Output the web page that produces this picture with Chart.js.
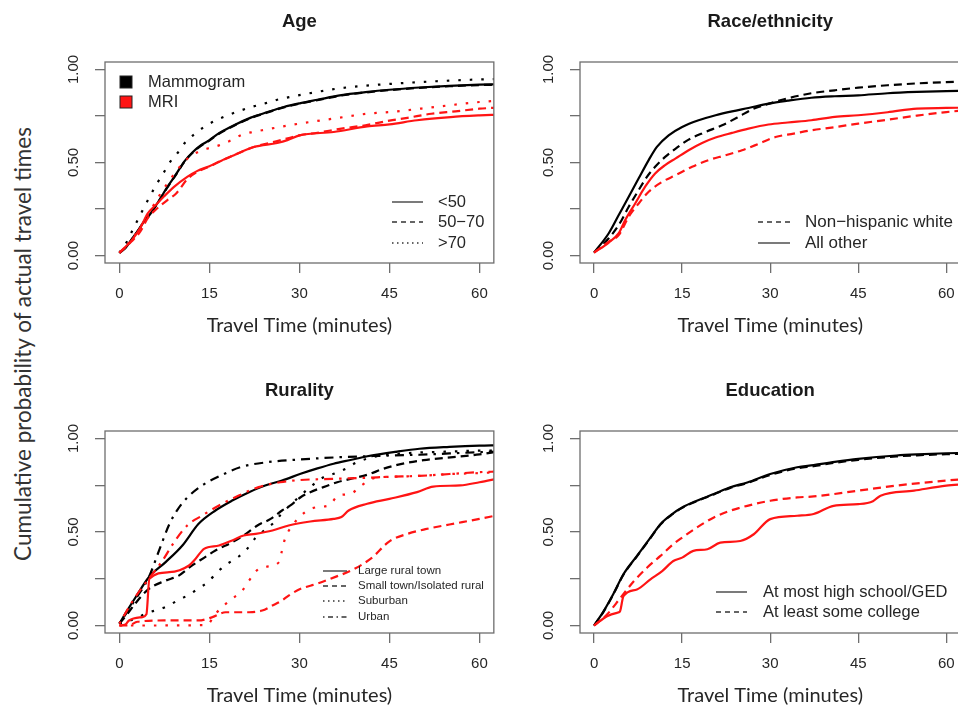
<!DOCTYPE html>
<html lang="en">
<head>
<meta charset="UTF-8" />
<title>Cumulative probability of actual travel times</title>
<script src="https://cdn.jsdelivr.net/npm/chart.js"></script>
<style>
  html, body { margin: 0; padding: 0; background: #fff; width: 958px; height: 713px; overflow: hidden; position: relative; }
  canvas { position: absolute; }
  #ytitle { position: absolute; left: 22px; top: 344px; transform: translate(-50%, -50%) rotate(-90deg);
            white-space: nowrap; font: 22.5px Lato; color: #333; }
</style>
</head>
<body>
<div id="ytitle">Cumulative probability of actual travel times</div>
<canvas id="age" width="470" height="345" style="left:30px;top:0px"></canvas>
<canvas id="race" width="470" height="345" style="left:505px;top:0px"></canvas>
<canvas id="rural" width="470" height="345" style="left:30px;top:370px"></canvas>
<canvas id="edu" width="470" height="345" style="left:505px;top:370px"></canvas>
<script>
// axis ticks
const xTicks = [0, 15, 30, 45, 60];
const yTicks = [0, 0.25, 0.5, 0.75, 1];
const yLabelTicks = [0, 0.5, 1];

// [minutes, cumulative probability]
// Age
const ageMamUnder50 = [[0,0.015],[1,0.04],[2,0.085],[3,0.13],[4,0.178],[5.2,0.226],[6.5,0.29],[8,0.369],[9.5,0.44],[10.8,0.505],[12.2,0.555],[13.6,0.593],[15,0.62],[16.3,0.651],[19.1,0.70],[21.9,0.741],[24.7,0.771],[27.4,0.798],[30.2,0.819],[33,0.837],[37,0.862],[41,0.878],[45,0.891],[50,0.903],[55,0.912],[60,0.918],[63,0.92]];
const ageMam50to70 = [[0,0.015],[1,0.04],[2,0.083],[3,0.128],[4,0.176],[5.2,0.224],[6.5,0.288],[8,0.366],[9.5,0.438],[10.8,0.502],[12.2,0.552],[13.6,0.59],[15,0.618],[16.3,0.649],[19.1,0.698],[21.9,0.739],[24.7,0.769],[27.4,0.796],[30.2,0.817],[33,0.835],[37,0.86],[41,0.876],[45,0.889],[50,0.901],[55,0.91],[60,0.916],[63,0.918]];
const ageMamOver70 = [[0,0.015],[1.25,0.074],[2.2,0.137],[3.1,0.194],[4.1,0.258],[5.1,0.319],[6.1,0.378],[7.35,0.444],[8.45,0.503],[9.7,0.551],[10.9,0.605],[12.45,0.651],[14.1,0.691],[16.1,0.727],[18,0.753],[19.9,0.776],[22.2,0.80],[24.4,0.819],[26.3,0.837],[28.3,0.851],[30,0.862],[34,0.885],[37,0.90],[41,0.913],[45,0.922],[50,0.932],[55,0.94],[60,0.946],[63,0.948]];
const ageMriUnder50 = [[0,0.015],[2,0.08],[3.5,0.15],[4.7,0.226],[6,0.27],[7.5,0.32],[9.1,0.369],[11.3,0.423],[13,0.455],[15,0.48],[17,0.51],[19.1,0.539],[22.4,0.583],[26.3,0.605],[28,0.62],[30,0.646],[35.7,0.664],[41.3,0.694],[45,0.705],[49.6,0.727],[55.2,0.744],[60,0.753],[63,0.757]];
const ageMri50to70 = [[0,0.015],[2,0.075],[3.5,0.13],[4.7,0.2],[6,0.245],[8,0.298],[9.5,0.335],[11.3,0.41],[13,0.45],[15,0.478],[17,0.51],[19.1,0.54],[22.4,0.583],[26.3,0.615],[30,0.646],[33,0.66],[37,0.682],[41,0.70],[45,0.725],[48,0.74],[52,0.762],[56,0.775],[60,0.789],[63,0.795]];
const ageMriOver70 = [[0,0.015],[2,0.085],[4,0.178],[5.5,0.26],[7,0.34],[8.5,0.41],[10,0.475],[11.5,0.525],[13,0.555],[14.7,0.575],[16.6,0.592],[18.6,0.619],[20.5,0.65],[22.4,0.665],[24.4,0.677],[26.6,0.69],[28.8,0.703],[30,0.709],[35.7,0.736],[41.3,0.762],[45,0.771],[52.5,0.798],[60,0.825],[63,0.832]];

// Race/ethnicity
const raceMamOther = [[0,0.016],[2.5,0.12],[4.2,0.218],[5.9,0.316],[7.6,0.415],[9.3,0.513],[10.7,0.584],[12.7,0.646],[15,0.691],[17.8,0.727],[20.7,0.754],[23.5,0.775],[26.3,0.793],[29.7,0.816],[33,0.832],[37,0.848],[41,0.856],[45,0.861],[50,0.872],[55,0.879],[60,0.884],[63,0.886]];
const raceMamNhw = [[0,0.016],[2.5,0.093],[4.2,0.164],[5.9,0.262],[7.6,0.352],[9,0.423],[10.4,0.477],[12.1,0.53],[13.9,0.575],[16.1,0.623],[19,0.664],[21.8,0.70],[24.6,0.745],[26.9,0.785],[29.7,0.815],[33,0.845],[37,0.872],[41,0.888],[45,0.902],[50,0.915],[55,0.925],[60,0.932],[63,0.935]];
const raceMriOther = [[0,0.016],[2.5,0.07],[4.2,0.12],[5.3,0.191],[7,0.28],[8.7,0.37],[10.4,0.441],[12.1,0.486],[13.9,0.522],[16.1,0.566],[18.4,0.605],[20.7,0.634],[23.5,0.659],[26.3,0.682],[29.7,0.704],[33,0.715],[37,0.727],[41,0.745],[45,0.754],[50,0.77],[55,0.79],[60,0.793],[63,0.795]];
const raceMriNhw = [[0,0.016],[2.5,0.075],[4.2,0.11],[5.9,0.209],[7.6,0.28],[9.3,0.343],[11.6,0.396],[13.9,0.432],[16.7,0.477],[19.5,0.513],[22.4,0.539],[25.2,0.566],[28,0.6],[30.9,0.637],[34,0.655],[37,0.673],[41,0.69],[45,0.709],[50,0.73],[55,0.752],[60,0.771],[63,0.78]];

// Rurality
const ruralMamLarge = [[0,0.01],[1.3,0.08],[2.7,0.151],[4.9,0.258],[7.7,0.339],[10.5,0.428],[13.2,0.544],[16,0.615],[18.8,0.668],[21.6,0.713],[24.3,0.749],[27.1,0.775],[30.2,0.811],[33,0.84],[35.7,0.865],[38.5,0.885],[41.3,0.905],[46.3,0.93],[50,0.945],[55,0.955],[60,0.962],[63,0.964]];
const ruralMamSmall = [[0,0.01],[1.3,0.06],[2.7,0.12],[4.9,0.196],[7.7,0.24],[9.9,0.267],[11.9,0.316],[14.1,0.362],[16,0.401],[18.8,0.445],[20.7,0.481],[23,0.535],[25.2,0.57],[27.1,0.615],[28.5,0.642],[30.2,0.686],[31.8,0.713],[34,0.74],[36.3,0.766],[38.5,0.784],[41.3,0.806],[44,0.838],[46.3,0.859],[50.7,0.884],[56.2,0.902],[60,0.915],[63,0.93]];
const ruralMamSuburb = [[0,0.01],[2.5,0.035],[4.5,0.065],[5.6,0.077],[7.6,0.098],[9.5,0.13],[11.3,0.16],[13.1,0.196],[14.9,0.237],[16.3,0.285],[18,0.33],[19.9,0.369],[21.3,0.41],[22.7,0.469],[24.1,0.508],[25.7,0.549],[26.8,0.59],[29.6,0.678],[31.8,0.74],[34,0.793],[35.7,0.811],[37.7,0.838],[39.6,0.873],[43.5,0.909],[46.3,0.918],[50,0.925],[55,0.93],[60,0.935],[63,0.935]];
const ruralMamUrban = [[0,0.01],[2.4,0.127],[4.9,0.258],[6.6,0.40],[8.3,0.54],[9.7,0.62],[11.2,0.68],[13.6,0.745],[16.9,0.802],[20.2,0.847],[24.6,0.873],[30.2,0.888],[36.8,0.90],[41.3,0.905],[45,0.909],[50,0.913],[55,0.92],[60,0.927],[63,0.93]];
const ruralMriLarge = [[0,0],[1,0.005],[1.6,0.027],[3.8,0.045],[4.5,0.06],[5,0.25],[8.3,0.285],[11.6,0.321],[12.7,0.357],[14.1,0.41],[16.6,0.428],[18.8,0.455],[20.7,0.481],[22.7,0.49],[25.5,0.508],[28.2,0.535],[31.8,0.556],[35.7,0.57],[37,0.58],[38.2,0.615],[41.3,0.651],[45,0.677],[49.6,0.713],[52.3,0.743],[56.8,0.749],[60,0.766],[63,0.785]];
const ruralMriSmall = [[0,0],[1.5,0],[3,0.02],[7.7,0.027],[13.2,0.027],[15.5,0.045],[17.7,0.071],[21.6,0.071],[23.8,0.08],[25.5,0.107],[27.1,0.134],[28.2,0.16],[30.2,0.196],[32.9,0.223],[36,0.26],[39,0.3],[42,0.36],[45,0.45],[48,0.49],[51,0.515],[55,0.54],[60,0.57],[63,0.59]];
const ruralMriSuburb = [[0,0],[14.5,0.002],[16,0.062],[17.1,0.098],[18.8,0.143],[20.5,0.187],[21.6,0.24],[23.2,0.303],[24.6,0.315],[26.6,0.339],[27.1,0.401],[27.6,0.464],[28.5,0.52],[31,0.608],[32.9,0.633],[34.9,0.642],[36.5,0.695],[38.5,0.704],[40.4,0.75],[42.4,0.788],[45,0.795],[50,0.80],[55,0.81],[60,0.815],[63,0.82]];
const ruralMriUrban = [[0,0.01],[2.4,0.14],[4.9,0.25],[7.2,0.348],[9.1,0.445],[11.3,0.535],[13.8,0.588],[16.6,0.642],[19.9,0.695],[23.2,0.74],[26.8,0.766],[30.2,0.778],[35.7,0.784],[41.3,0.79],[45,0.795],[50,0.80],[55,0.81],[60,0.82],[63,0.823]];

// Education
const eduMamHighSchool = [[0,0],[1.5,0.07],[3.3,0.17],[5,0.274],[7.3,0.372],[9.6,0.47],[11.3,0.542],[13.3,0.596],[15,0.631],[17.5,0.667],[20.4,0.703],[23.2,0.739],[26.1,0.765],[30,0.81],[34.6,0.846],[37.4,0.858],[41,0.875],[45,0.891],[51.5,0.909],[55,0.915],[60,0.921],[63,0.923]];
const eduMamCollege = [[0,0],[1.5,0.068],[3.3,0.168],[5,0.272],[7.3,0.37],[9.6,0.468],[11.3,0.54],[13.3,0.594],[15,0.629],[17.5,0.665],[20.4,0.701],[23.2,0.736],[26.1,0.762],[30,0.805],[34.6,0.841],[37.4,0.852],[41,0.87],[45,0.886],[51.5,0.904],[55,0.91],[60,0.916],[63,0.918]];
const eduMriHighSchool = [[0,0],[2.2,0.05],[3.9,0.068],[4.4,0.075],[5,0.157],[7.3,0.193],[9.6,0.247],[11.6,0.291],[13.5,0.345],[15,0.363],[16.9,0.399],[19.3,0.408],[21.5,0.443],[24.9,0.452],[27.2,0.488],[30,0.569],[34.6,0.587],[37.4,0.596],[40.8,0.64],[45,0.649],[47.5,0.665],[48.8,0.694],[54.5,0.721],[60,0.748],[63,0.755]];
const eduMriCollege = [[0,0],[2.2,0.059],[4.5,0.148],[6.8,0.238],[9,0.309],[11.3,0.372],[13.5,0.435],[15,0.47],[17.5,0.524],[20.4,0.578],[23.2,0.614],[26.1,0.64],[30,0.667],[34.6,0.685],[37.4,0.69],[45,0.721],[51.5,0.748],[60,0.775],[63,0.782]];

const BLACK = '#000000';
const RED = '#ff1414';
const TEXT = '#262626';
const AXIS = '#6e6e6e';
const SOLID = [];
const DASHED = [8, 5];
const DOTTED = [2.5, 9];
const DOTDASH = [2.5, 6, 9, 6];
// legend keys are drawn with a thin pen, so shorter dashes
const KEY_DASH = { solid: [], dashed: [5, 4], dotted: [1.5, 3.5], dotdash: [1.5, 3.5, 5, 3.5] };

Chart.defaults.font.family = '"Liberation Sans", Arial, sans-serif';

const rFrame = {
  id: 'rframe',
  afterDraw(chart, args, o) {
    const { ctx, chartArea: a } = chart;
    const y = chart.scales.y;
    ctx.save();
    ctx.strokeStyle = AXIS;
    ctx.lineWidth = 1.3;
    ctx.setLineDash([]);
    ctx.strokeRect(a.left, a.top, a.right - a.left, a.bottom - a.top);

    // R style y labels, parallel to the axis
    ctx.fillStyle = TEXT;
    ctx.font = '15px "Liberation Sans"';
    ctx.textAlign = 'center';
    ctx.textBaseline = 'middle';
    yLabelTicks.forEach(v => {
      ctx.save();
      ctx.translate(a.left - 31, y.getPixelForValue(v));
      ctx.rotate(-Math.PI / 2);
      ctx.fillText(v.toFixed(2), 0, 0);
      ctx.restore();
    });

    ctx.font = 'bold 18.5px "Liberation Sans"';
    ctx.textBaseline = 'alphabetic';
    ctx.fillStyle = '#1a1a1a';
    ctx.fillText(o.title, (a.left + a.right) / 2, a.top - 35);

    ctx.textAlign = 'left';
    ctx.textBaseline = 'middle';
    (o.boxes || []).forEach(b => {
      ctx.fillStyle = b.color;
      ctx.fillRect(a.left + b.x, a.top + b.y - 6, 12, 12);
      ctx.strokeStyle = '#222';
      ctx.lineWidth = 1;
      ctx.strokeRect(a.left + b.x, a.top + b.y - 6, 12, 12);
      ctx.fillStyle = TEXT;
      ctx.font = o.keyFont;
      ctx.fillText(b.label, a.left + b.tx, a.top + b.y);
    });
    (o.keys || []).forEach(k => {
      ctx.strokeStyle = '#333';
      ctx.lineWidth = 1.3;
      ctx.setLineDash(KEY_DASH[k.lty]);
      ctx.beginPath();
      ctx.moveTo(a.left + o.keyX[0], a.top + k.y);
      ctx.lineTo(a.left + o.keyX[1], a.top + k.y);
      ctx.stroke();
      ctx.setLineDash([]);
      ctx.fillStyle = TEXT;
      ctx.font = o.keyFont;
      ctx.fillText(k.label, a.left + o.keyX[2], a.top + k.y);
    });
    ctx.restore();
  }
};

function series(points, color, dash) {
  return {
    data: points.map(([x, y]) => ({ x, y })),
    borderColor: color,
    borderDash: dash,
    borderWidth: 2.2,
    pointRadius: 0,
    fill: false,
    cubicInterpolationMode: 'monotone',
    clip: 0
  };
}

function makePanel(id, padTop, padRight, datasets, frame) {
  return new Chart(document.getElementById(id), {
    type: 'line',
    data: { datasets },
    options: {
      responsive: false,
      animation: false,
      devicePixelRatio: 1,
      layout: { padding: { top: padTop, right: padRight, left: 0, bottom: 0 } },
      plugins: { legend: { display: false }, tooltip: { enabled: false }, rframe: frame },
      scales: {
        x: {
          type: 'linear',
          min: -2.4,
          max: 62.4,
          afterBuildTicks: s => { s.ticks = xTicks.map(v => ({ value: v })); },
          afterFit: s => { s.height = 82; },
          grid: { drawOnChartArea: false, tickLength: 10, color: AXIS, lineWidth: 1.3 },
          border: { display: false },
          ticks: { color: TEXT, font: { size: 15 }, padding: 12, maxRotation: 0, autoSkip: false },
          title: { display: true, text: 'Travel Time (minutes)', color: TEXT,
                   font: { family: 'Lato', size: 20 }, padding: { top: 0, bottom: 7 } }
        },
        y: {
          type: 'linear',
          min: -0.04,
          max: 1.04,
          afterBuildTicks: s => { s.ticks = yTicks.map(v => ({ value: v })); },
          afterFit: s => { s.width = 75; },
          grid: { drawOnChartArea: false, tickLength: 10, color: AXIS, lineWidth: 1.3 },
          border: { display: false },
          ticks: { color: 'rgba(0,0,0,0)' }
        }
      }
    },
    plugins: [rFrame]
  });
}

makePanel('age', 62, 6, [
  series(ageMriUnder50, RED, SOLID),
  series(ageMri50to70, RED, DASHED),
  series(ageMriOver70, RED, DOTTED),
  series(ageMamUnder50, BLACK, SOLID),
  series(ageMam50to70, BLACK, DASHED),
  series(ageMamOver70, BLACK, DOTTED)
], {
  title: 'Age',
  keyFont: '16.5px "Liberation Sans"',
  boxes: [
    { label: 'Mammogram', color: BLACK, x: 15, tx: 43, y: 20 },
    { label: 'MRI', color: RED, x: 15, tx: 43, y: 40 }
  ],
  keyX: [287, 318, 333],
  keys: [
    { label: '<50', lty: 'solid', y: 140 },
    { label: '50\u221270', lty: 'dashed', y: 160 },
    { label: '>70', lty: 'dotted', y: 181 }
  ]
});

makePanel('race', 62, 14.6, [
  series(raceMriNhw, RED, DASHED),
  series(raceMriOther, RED, SOLID),
  series(raceMamNhw, BLACK, DASHED),
  series(raceMamOther, BLACK, SOLID)
], {
  title: 'Race/ethnicity',
  keyFont: '17px "Liberation Sans"',
  keyX: [178, 210, 225],
  keys: [
    { label: 'Non\u2212hispanic white', lty: 'dashed', y: 160 },
    { label: 'All other', lty: 'solid', y: 181 }
  ]
});

makePanel('rural', 61, 6, [
  series(ruralMriLarge, RED, SOLID),
  series(ruralMriSmall, RED, DASHED),
  series(ruralMriSuburb, RED, DOTTED),
  series(ruralMriUrban, RED, DOTDASH),
  series(ruralMamLarge, BLACK, SOLID),
  series(ruralMamSmall, BLACK, DASHED),
  series(ruralMamSuburb, BLACK, DOTTED),
  series(ruralMamUrban, BLACK, DOTDASH)
], {
  title: 'Rurality',
  keyFont: '11.5px "Liberation Sans"',
  keyX: [218, 242, 253],
  keys: [
    { label: 'Large rural town', lty: 'solid', y: 140 },
    { label: 'Small town/Isolated rural', lty: 'dashed', y: 155 },
    { label: 'Suburban', lty: 'dotted', y: 170 },
    { label: 'Urban', lty: 'dotdash', y: 186 }
  ]
});

makePanel('edu', 61, 14.6, [
  series(eduMriHighSchool, RED, SOLID),
  series(eduMriCollege, RED, DASHED),
  series(eduMamHighSchool, BLACK, SOLID),
  series(eduMamCollege, BLACK, DASHED)
], {
  title: 'Education',
  keyFont: '16.5px "Liberation Sans"',
  keyX: [136, 167, 183],
  keys: [
    { label: 'At most high school/GED', lty: 'solid', y: 161 },
    { label: 'At least some college', lty: 'dashed', y: 181 }
  ]
});
</script>
</body>
</html>
